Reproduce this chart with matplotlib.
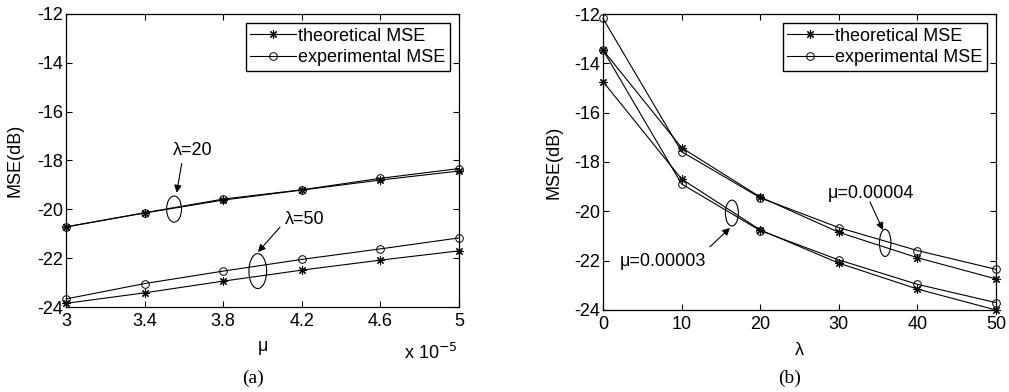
import matplotlib
matplotlib.use("Agg")
import matplotlib.pyplot as plt
from matplotlib.patches import Ellipse

plt.rcParams['font.family'] = ['Liberation Sans', 'DejaVu Sans']

# ---- data (a) ----
mu_vals = [3.0, 3.4, 3.8, 4.2, 4.6, 5.0]  # x 1e-5
a_theo_l20 = [-20.72, -20.15, -19.62, -19.21, -18.80, -18.43]
a_exp_l20 = [-20.72, -20.14, -19.58, -19.20, -18.73, -18.33]
a_theo_l50 = [-23.85, -23.42, -22.94, -22.49, -22.08, -21.70]
a_exp_l50 = [-23.67, -23.04, -22.53, -22.05, -21.62, -21.17]
a_xticks = [3, 3.4, 3.8, 4.2, 4.6, 5]
a_xticklabels = ['3', '3.4', '3.8', '4.2', '4.6', '5']

# ---- data (b) ----
lam_vals = [0, 10, 20, 30, 40, 50]
b_theo_mu4 = [-13.46, -17.42, -19.42, -20.85, -21.88, -22.74]
b_exp_mu4 = [-12.18, -17.58, -19.45, -20.66, -21.59, -22.35]
b_theo_mu3 = [-14.74, -18.69, -20.75, -22.10, -23.15, -24.00]
b_exp_mu3 = [-13.46, -18.89, -20.78, -21.97, -22.96, -23.70]
b_xticks = [0, 10, 20, 30, 40, 50]

yticks = [-24, -22, -20, -18, -16, -14, -12]

W, H = 1009, 392
fig = plt.figure(figsize=(W / 100, H / 100), dpi=100)

def ax_px(l, t, r, b):
    return fig.add_axes([l / W, 1 - b / H, (r - l) / W, (b - t) / H])

axa = ax_px(66, 14, 459, 307)
axb = ax_px(603, 14, 996, 310)

fs = 13
lw = 0.8
STAR = (8, 2, 0)
ms_star = 6
ms_circ = 5.5

def style(ax):
    ax.tick_params(direction='in', top=True, right=True, length=4, width=0.8,
                   labelsize=fs)
    ax.tick_params(axis='x', pad=4)
    ax.tick_params(axis='y', pad=2)
    for s in ax.spines.values():
        s.set_linewidth(0.9)
    ax.set_ylim(-24, -12)
    ax.set_yticks(yticks)
    ax.set_yticklabels([str(v) for v in yticks])

def plot_theo(ax, x, y, label=None):
    ax.plot(x, y, '-', color='black', lw=lw, marker=STAR, ms=ms_star,
            markeredgewidth=0.8, label=label, clip_on=False)

def plot_exp(ax, x, y, label=None):
    ax.plot(x, y, '-', color='black', lw=lw, marker='o', ms=ms_circ,
            mfc='none', markeredgewidth=0.7, label=label, clip_on=False)

def legend(ax):
    leg = ax.legend(loc='upper right', fontsize=fs, frameon=True, fancybox=False,
                    edgecolor='black', handlelength=2.5, handletextpad=0.15,
                    borderpad=0.25, labelspacing=0.25, borderaxespad=0.5,
                    framealpha=1)
    leg.get_frame().set_linewidth(1.0)

def arrow(ax, head, tail):
    ax.annotate('', xy=head, xytext=tail,
                arrowprops=dict(arrowstyle='-|>', color='black', lw=0.8,
                                mutation_scale=11, shrinkA=0, shrinkB=0))

# ---- panel (a) ----
plot_theo(axa, mu_vals, a_theo_l20, 'theoretical MSE')
plot_exp(axa, mu_vals, a_exp_l20, 'experimental MSE')
plot_theo(axa, mu_vals, a_theo_l50)
plot_exp(axa, mu_vals, a_exp_l50)
style(axa)
axa.set_xlim(3, 5)
axa.set_xticks(a_xticks)
axa.set_xticklabels(a_xticklabels)
axa.set_xlabel('μ', fontsize=fs)
axa.xaxis.set_label_coords(0.5, -0.105)
axa.set_ylabel('MSE(dB)', fontsize=fs)
axa.yaxis.set_label_coords(-0.107, 0.5)
axa.text(458 / W, 1 - 353 / H, r'x 10$^{-5}$', transform=fig.transFigure,
         ha='right', va='center', fontsize=fs)
legend(axa)

axa.add_patch(Ellipse((3.55, -19.99), 0.076, 1.07, fill=False, lw=0.8))
arrow(axa, (3.563, -19.32), (3.589, -18.12))
axa.text(3.646, -17.61, 'λ=20', fontsize=fs, ha='center', va='center')
axa.add_patch(Ellipse((3.976, -22.53), 0.09, 1.43, fill=False, lw=0.8))
arrow(axa, (3.977, -21.75), (4.089, -20.73))
axa.text(4.216, -20.40, 'λ=50', fontsize=fs, ha='center', va='center')

# ---- panel (b) ----
plot_theo(axb, lam_vals, b_theo_mu4, 'theoretical MSE')
plot_exp(axb, lam_vals, b_exp_mu4, 'experimental MSE')
plot_theo(axb, lam_vals, b_theo_mu3)
plot_exp(axb, lam_vals, b_exp_mu3)
style(axb)
axb.set_xlim(0, 50)
axb.set_xticks(b_xticks)
axb.set_xlabel('λ', fontsize=fs)
axb.xaxis.set_label_coords(0.5, -0.108)
axb.set_ylabel('MSE(dB)', fontsize=fs)
axb.yaxis.set_label_coords(-0.102, 0.5)
legend(axb)

axb.add_patch(Ellipse((16.4, -20.07), 1.65, 1.05, fill=False, lw=0.8))
arrow(axb, (16.16, -20.67), (13.6, -21.44))
axb.text(7.63, -22.05, 'μ=0.00003', fontsize=fs, ha='center', va='center')
axb.add_patch(Ellipse((35.9, -21.28), 1.46, 1.1, fill=False, lw=0.8))
arrow(axb, (35.62, -20.76), (33.97, -19.62))
axb.text(34.1, -19.26, 'μ=0.00004', fontsize=fs, ha='center', va='center')

fig.text(253 / W, 1 - 378 / H, '(a)', ha='center', va='center',
         fontsize=14, family=['Liberation Serif'])
fig.text(790 / W, 1 - 378 / H, '(b)', ha='center', va='center',
         fontsize=14, family=['Liberation Serif'])

fig.savefig('out.png', dpi=100)
